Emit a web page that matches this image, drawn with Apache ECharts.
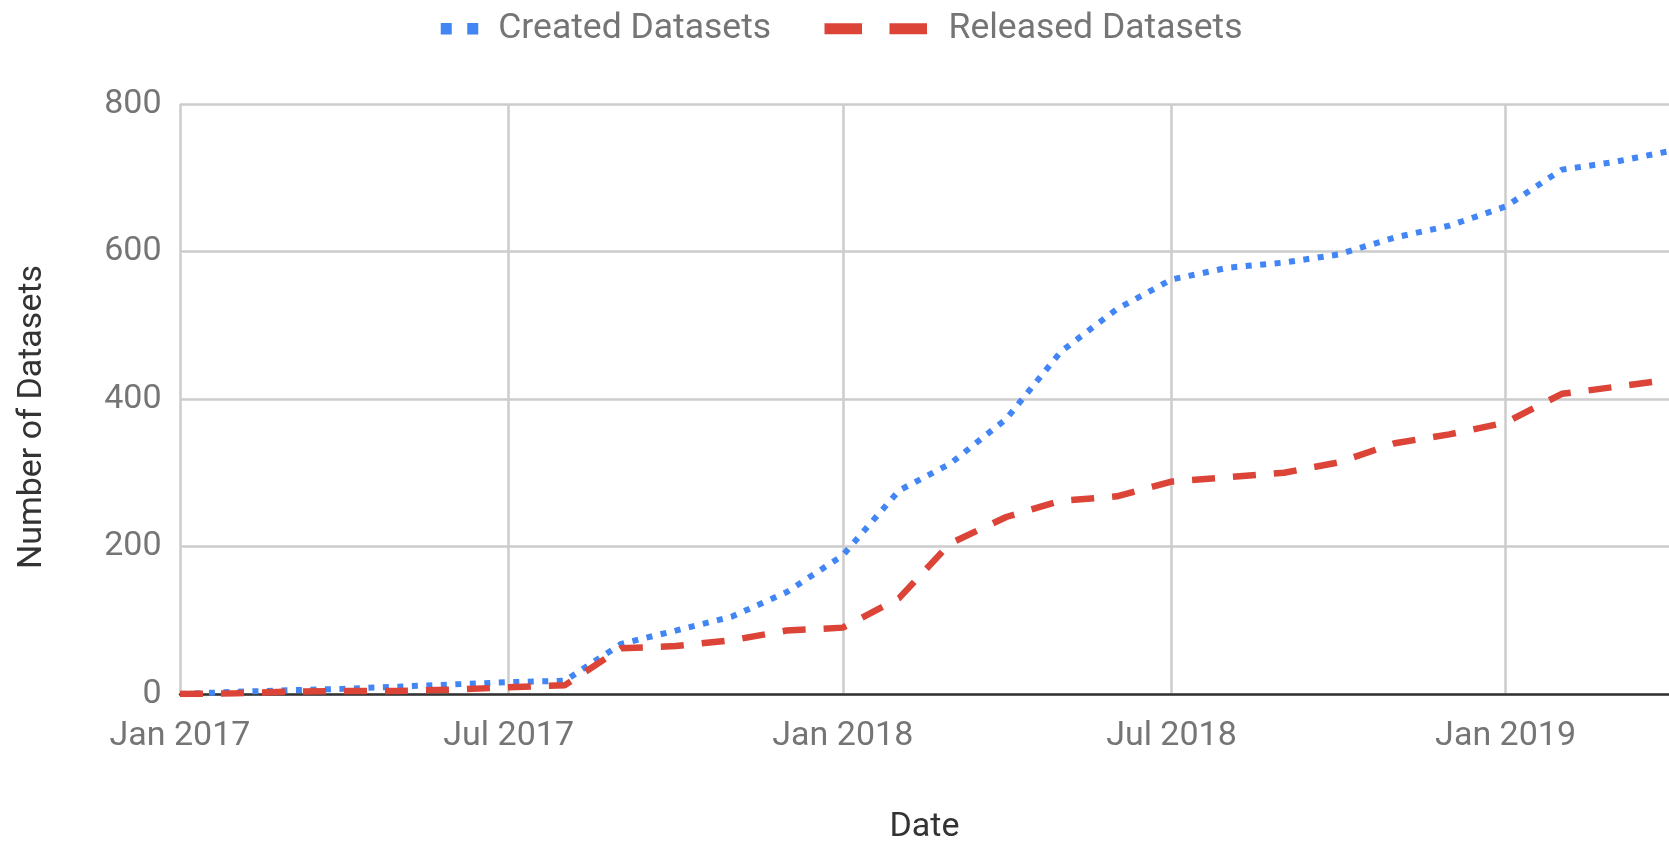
<!DOCTYPE html>
<html>
<head>
<meta charset="utf-8">
<script src="https://cdn.jsdelivr.net/npm/echarts@6/dist/echarts.min.js"></script>
<style>
  html, body { margin: 0; padding: 0; background: #fff; }
  #chart { width: 1669px; height: 842px; }
</style>
</head>
<body>
<div id="chart"></div>
<script>
// monthly snapshots
var months = [
  '2017-01-01', '2017-02-01', '2017-03-01', '2017-04-01', '2017-05-01', '2017-06-01',
  '2017-07-01', '2017-08-01', '2017-09-01', '2017-10-01', '2017-11-01', '2017-12-01',
  '2018-01-01', '2018-02-01', '2018-03-01', '2018-04-01', '2018-05-01', '2018-06-01',
  '2018-07-01', '2018-08-01', '2018-09-01', '2018-10-01', '2018-11-01', '2018-12-01',
  '2019-01-01', '2019-02-01', '2019-03-01', '2019-04-01'
]
var created = [0, 3, 5, 7, 10, 13, 16, 18, 68, 86, 105, 138,
  188, 276, 312, 373, 464, 522, 562, 578, 585, 596, 619, 635,
  661, 711, 721, 736]
var released = [0, 1, 3, 4, 4, 6, 9, 12, 62, 65, 73, 86,
  90, 130, 204, 240, 262, 268, 288, 294, 300, 314, 340, 352,
  368, 407, 416, 426]

var tickDates = ['2017-01-01', '2017-07-01', '2018-01-01', '2018-07-01', '2019-01-01']
var tickLabels = ['Jan 2017', 'Jul 2017', 'Jan 2018', 'Jul 2018', 'Jan 2019']

// dates -> ms, x axis is a plain value axis over timestamps
var parse = function (s) { return echarts.time.parse(s).getTime() }
var tickTimes = tickDates.map(parse)

var font = 'Roboto'
var gray = '#757575'

var chart = echarts.init(document.getElementById('chart'))
chart.setOption({
  animation: false,
  backgroundColor: '#fff',
  textStyle: { fontFamily: font },
  legend: [{
    data: ['Created Datasets'],
    left: 435,
    top: 8,
    padding: 0,
    itemWidth: 38,
    itemHeight: 11.5,
    lineStyle: { width: 11.5, type: [11, 15.5], cap: 'butt' },
    itemStyle: { opacity: 0 },
    textStyle: { color: gray, fontSize: 35.5, lineHeight: 35.5, padding: [6, 0, 0, 14.5] }
  }, {
    data: ['Released Datasets'],
    left: 819,
    top: 8,
    padding: 0,
    itemWidth: 103,
    itemHeight: 11.5,
    lineStyle: { width: 11, type: [37.5, 27.5], cap: 'butt' },
    itemStyle: { opacity: 0 },
    textStyle: { color: gray, fontSize: 35.5, lineHeight: 35.5, padding: [6, 0, 0, 16] }
  }],
  grid: {
    left: 180,
    right: 0,
    top: 104,
    bottom: 148,
    outerBoundsMode: 'none'
  },
  xAxis: {
    type: 'value',
    min: parse('2017-01-01'),
    max: parse('2019-04-01'),
    name: 'Date',
    nameLocation: 'middle',
    nameGap: 116,
    nameTextStyle: { color: '#333', fontSize: 34, lineHeight: 34 },
    axisLine: { show: true, onZero: false, lineStyle: { color: '#333', width: 2.5 } },
    axisTick: { show: false, customValues: tickTimes },
    axisLabel: {
      customValues: tickTimes,
      color: gray,
      fontSize: 34,
      lineHeight: 34,
      margin: 25,
      showMinLabel: true,
      showMaxLabel: true,
      formatter: function (v) { return tickLabels[tickTimes.indexOf(+v)] || '' }
    },
    splitLine: { show: true, lineStyle: { color: '#cccccc', width: 2.5 } }
  },
  yAxis: {
    type: 'value',
    min: 0,
    max: 800,
    interval: 200,
    name: 'Number of Datasets',
    nameLocation: 'middle',
    nameGap: 131,
    nameTextStyle: { color: '#333', fontSize: 34, lineHeight: 34, padding: [0, 36, 0, 0] },
    axisLine: { show: false },
    axisTick: { show: false },
    axisLabel: { color: gray, fontSize: 34, margin: 18.5 },
    splitLine: { show: true, lineStyle: { color: '#cccccc', width: 2.5 } }
  },
  series: [{
    name: 'Created Datasets',
    type: 'line',
    symbol: 'none',
    color: '#4285F4',
    lineStyle: { color: '#4285F4', width: 6, type: [6, 8.5], cap: 'butt' },
    data: months.map(function (m, i) { return [parse(m), created[i]] })
  }, {
    name: 'Released Datasets',
    type: 'line',
    symbol: 'none',
    color: '#DB4437',
    lineStyle: { color: '#DB4437', width: 6.5, type: [23, 18], cap: 'butt' },
    data: months.map(function (m, i) { return [parse(m), released[i]] })
  }]
})
</script>
</body>
</html>
